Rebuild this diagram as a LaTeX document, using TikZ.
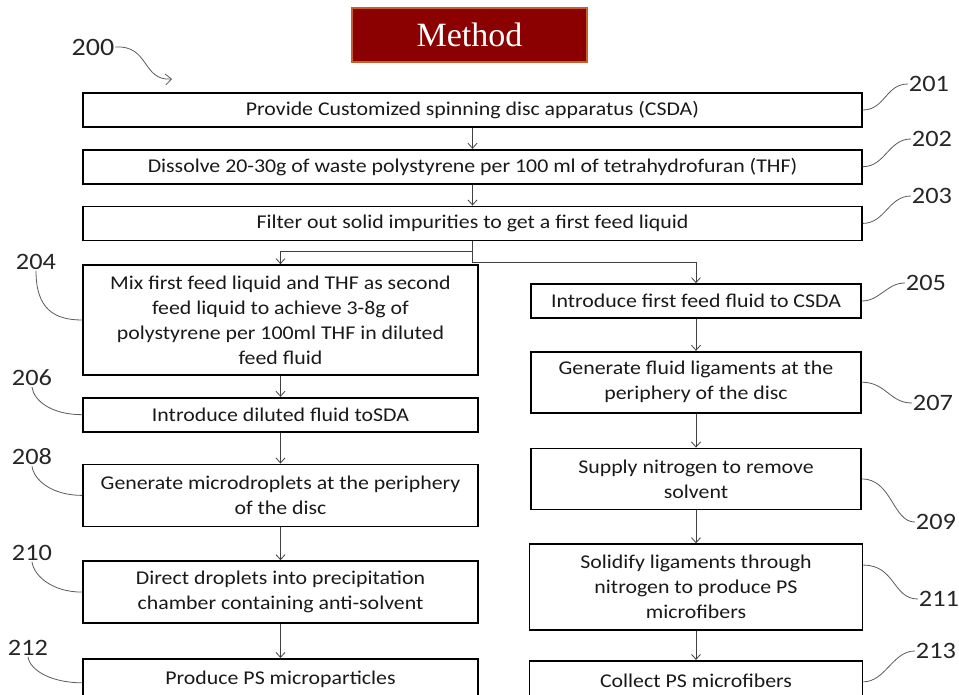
\documentclass[tikz,border=0pt]{standalone}
\usepackage{fontspec}
\setmainfont{Carlito}[FakeStretch=1.12]
\newfontfamily\titlefont{Liberation Serif}
\usetikzlibrary{positioning,arrows.meta}
\definecolor{titlered}{RGB}{139,0,0}
\definecolor{titleedge}{RGB}{196,96,40}
\definecolor{leadgray}{RGB}{90,90,90}

\begin{document}
\begin{tikzpicture}[x=1pt, y=-1pt, >={Straight Barb[length=5pt,width=9pt]},
    stepbox/.style={rectangle, draw=black, line width=1.7pt, inner sep=2pt, align=center,
      font=\fontsize{19.5}{25}\selectfont, text=black!90},
    wide/.style={stepbox, minimum width=779pt, minimum height=34pt},
    leftbox/.style={stepbox, minimum width=395pt},
    rightbox/.style={stepbox, minimum width=330pt},
    title/.style={rectangle, draw=titleedge, line width=1.4pt, fill=titlered, text=white,
      minimum width=235pt, minimum height=54pt, font=\titlefont\fontsize{34}{38}\selectfont},
    lbl/.style={inner sep=1pt, font=\fontsize{23.5}{26}\selectfont, text=black!85},
    edge/.style={->, line width=0.8pt, draw=black!75},
    lead/.style={line width=0.8pt, draw=leadgray}]

\useasboundingbox (0,0) rectangle (959,695);

\node [title] (method) at (469.5,35) {Method};

% main column
\node [wide] (s201) at (472.5,110) {Provide Customized spinning disc apparatus (CSDA)};
\node [wide, below=21pt of s201] (s202) {Dissolve 20-30g of waste polystyrene per 100 ml of tetrahydrofuran (THF)};
\node [wide, below=21pt of s202] (s203) {Filter out solid impurities to get a first feed liquid};

% left branch
\node [leftbox, minimum height=110pt] (s204) at (280.5,320) {Mix first feed liquid and THF as second\\feed liquid to achieve 3-8g of\\polystyrene per 100ml THF in diluted\\feed fluid};
\node [leftbox, minimum height=34pt, below=21pt of s204] (s206) {Introduce diluted fluid toSDA};
\node [leftbox, minimum height=62pt, below=31pt of s206] (s208) {Generate microdroplets at the periphery\\of the disc};
\node [leftbox, minimum height=62pt, below=33pt of s208] (s210) {Direct droplets into precipitation\\chamber containing anti-solvent};
\node [leftbox, minimum height=40pt, below=34pt of s210] (s212) {Produce PS microparticles};

% right branch
\node [rightbox, minimum height=34pt] (s205) at (696,301) {Introduce first feed fluid to CSDA};
\node [rightbox, minimum height=61pt, below=32pt of s205] (s207) {Generate fluid ligaments at the\\periphery of the disc};
\node [rightbox, minimum height=61pt, below=34pt of s207] (s209) {Supply nitrogen to remove\\solvent};
\node [stepbox, minimum width=333pt, minimum height=86pt, below=33pt of s209] (s211) {Solidify ligaments through\\nitrogen to produce PS\\microfibers};
\node [stepbox, minimum width=333pt, minimum height=40pt, below=29pt of s211] (s213) {Collect PS microfibers};

% reference numerals
\node [lbl, font=\fontsize{25}{28}\selectfont] (l200) at (93,47) {200};
\coordinate (c200) at (172,79);
\node [lbl] (l201) at (929,84) {201};
\node [lbl] (l202) at (932,139) {202};
\node [lbl] (l203) at (932,196) {203};
\node [lbl] (l204) at (36,262) {204};
\node [lbl] (l205) at (926,283) {205};
\node [lbl] (l206) at (32,378) {206};
\node [lbl] (l207) at (933,403) {207};
\node [lbl] (l208) at (32,457) {208};
\node [lbl] (l209) at (936,522) {209};
\node [lbl] (l210) at (32,553) {210};
\node [lbl] (l211) at (939,599) {211};
\node [lbl] (l212) at (28,648) {212};
\node [lbl] (l213) at (936,651) {213};

% flow
\draw [edge] (s201) -- (s202);
\draw [edge] (s202) -- (s203);
\draw [edge] (s203.south) -- ++(0,10) -| (s204.north);
\draw [edge] (s203.south) -- ++(0,21) -| (s205.north);
\draw [edge] (s204) -- (s206);
\draw [edge] (s206) -- (s208);
\draw [edge] (s208) -- (s210);
\draw [edge] (s210) -- (s212);
\draw [edge] (s205) -- (s207);
\draw [edge] (s207) -- (s209);
\draw [edge] (s209.south) -- (s209.south |- s211.north);
\draw [edge] (s211) -- (s213);

% leaders
\draw [lead, -{Straight Barb[length=6pt,width=11pt]}] (l200.east) .. controls +(34,-2) and +(-30,2) .. (c200);
\draw [lead] (s201.east) .. controls +(22,0) and +(-22,0) .. (l201.west);
\draw [lead] (s202.east) .. controls +(22,0) and +(-22,0) .. (l202.west);
\draw [lead] (s203.east) .. controls +(22,0) and +(-22,0) .. (l203.west);
\draw [lead] (s205.east) .. controls +(18,0) and +(-18,0) .. (l205.west);
\draw [lead] (s207.east) .. controls +(24,0) and +(-22,0) .. (l207.west);
\draw [lead] (s209.east) .. controls +(30,0) and +(-22,0) .. (l209.west);
\draw [lead] ([yshift=22pt]s211.east) .. controls +(32,0) and +(-25,0) .. (l211.west);
\draw [lead] ([yshift=-1pt]s213.east) .. controls +(22,0) and +(-22,0) .. (l213.west);
\draw [lead] (l204.south) .. controls +(0,38) and +(-28,0) .. (s204.west);
\draw [lead] (l206.south) .. controls +(2,14) and +(-30,0) .. (s206.west);
\draw [lead] (l208.south) .. controls +(2,14) and +(-30,0) .. (s208.west);
\draw [lead] (l210.south) .. controls +(2,14) and +(-30,0) .. (s210.west);
\draw [lead] (l212.south) .. controls +(2,14) and +(-30,0) .. ([yshift=-4pt]s212.west);

\end{tikzpicture}
\end{document}
